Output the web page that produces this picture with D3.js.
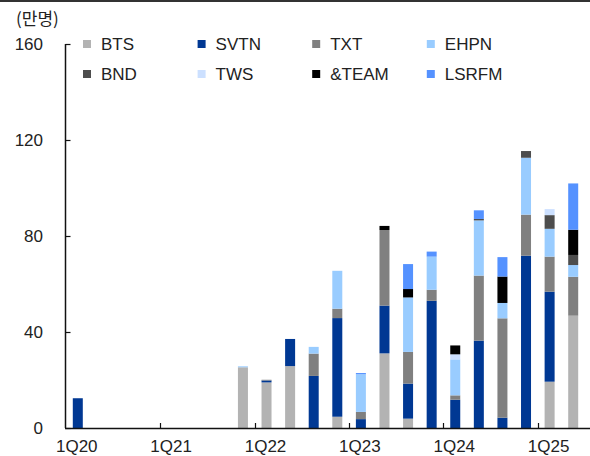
<!DOCTYPE html>
<html><head><meta charset="utf-8">
<script src="https://cdn.jsdelivr.net/npm/d3@7"></script>
<style>body{margin:0;background:#fff;} svg{display:block;} text{font-family:"Liberation Sans",Arial,"Noto Sans CJK KR",sans-serif;}</style>
</head><body><svg id="c" width="590" height="456"></svg>
<script>
const quarters = ["1Q20","2Q20","3Q20","4Q20","1Q21","2Q21","3Q21","4Q21","1Q22","2Q22","3Q22","4Q22","1Q23","2Q23","3Q23","4Q23","1Q24","2Q24","3Q24","4Q24","1Q25","2Q25"];
const tickLabels = ["1Q20","1Q21","1Q22","1Q23","1Q24","1Q25"];
const seriesNames = ["BTS","SVTN","TXT","EHPN","BND","TWS","&TEAM","LSRFM"];
const BTS   = [0,0,0,0,0,0,0,25.3,19.0,25.8,0,4.7,0,31.1,3.9,0,0,0,0,0,19.3,46.8];
const SVTN  = [12.4,0,0,0,0,0,0,0,0.8,11.3,21.7,41.1,3.7,19.9,14.6,53.0,11.8,36.4,4.3,71.8,37.5,0];
const TXT   = [0,0,0,0,0,0,0,0,0.3,0,9.3,3.9,3.0,31.5,13.2,4.6,1.8,27.1,41.4,17.1,14.6,16.2];
const EHPN  = [0,0,0,0,0,0,0,0.4,0,0,2.8,15.8,15.7,0,22.7,13.8,15.0,23.0,6.4,23.7,11.6,4.9];
const BND   = [0,0,0,0,0,0,0,0,0,0,0,0,0,0,0,0,0,0.6,0,2.8,5.7,4.2];
const TWS   = [0,0,0,0,0,0,0,0,0,0,0,0,0,0,0,0,2.1,0,0,0,2.5,0];
const TEAM  = [0,0,0,0,0,0,0,0,0,0,0,0,0,1.7,3.5,0,3.7,0,11.0,0,0,10.5];
const LSRFM = [0,0,0,0,0,0,0,0,0,0,0,0,0.5,0,10.4,2.1,0,3.6,8.1,0,0,19.3];
const yTicks = [0,40,80,120,160];

const seriesValues = [BTS,SVTN,TXT,EHPN,BND,TWS,TEAM,LSRFM];
const colors = ["#b3b3b3","#003893","#808080","#99ccff","#4d4d4d","#cce0ff","#000000","#5592ff"];

const svg = d3.select("#c");
svg.append("rect").attr("x",0).attr("y",0).attr("width",590).attr("height",2).attr("fill","#333");

const xb = d3.scaleBand().domain(quarters).range([66,585]);
const y = d3.scaleLinear().domain([0,160]).range([428,44]);

const table = quarters.map((q,i)=>{const o={q}; seriesNames.forEach((s,k)=>o[s]=seriesValues[k][i]); return o;});
const stacked = d3.stack().keys(seriesNames)(table);

svg.append("g").selectAll("g").data(stacked).join("g")
  .attr("fill",(d,i)=>colors[i])
  .selectAll("rect").data(d=>d.filter(p=>p[1]-p[0]>0)).join("rect")
  .attr("x",d=>xb(d.data.q)+xb.bandwidth()/2-5)
  .attr("width",10)
  .attr("y",d=>y(d[1]))
  .attr("height",d=>y(d[0])-y(d[1]));

// y axis
const ya = svg.append("g").attr("transform","translate(65.5,0)")
  .call(d3.axisRight(y).tickValues(yTicks).tickSize(5).tickFormat(""));
ya.select(".domain").attr("stroke","#111").attr("stroke-width",1.5).attr("d","M0,44V428");
ya.selectAll(".tick line").attr("stroke","#111").attr("stroke-width",1.2);
svg.append("g").selectAll("text").data(yTicks).join("text")
  .attr("x",43).attr("y",d=>y(d)).attr("dy","0.36em").attr("text-anchor","end")
  .attr("font-size",17).attr("fill","#222").text(d=>d);

// x axis
svg.append("line").attr("x1",65).attr("x2",590).attr("y1",428.5).attr("y2",428.5).attr("stroke","#111").attr("stroke-width",1.5);
svg.append("g").selectAll("line").data(tickLabels.slice(1)).join("line")
  .attr("x1",d=>Math.round(xb(d))+0.5).attr("x2",d=>Math.round(xb(d))+0.5)
  .attr("y1",423).attr("y2",428).attr("stroke","#111").attr("stroke-width",1.2);
svg.append("g").selectAll("text").data(tickLabels).join("text")
  .attr("x",d=>xb(d)+xb.bandwidth()/2-1).attr("y",452).attr("text-anchor","middle")
  .attr("font-size",17).attr("fill","#222").text(d=>d);

// unit label
svg.append("text").attr("x",16).attr("y",25).attr("font-size",17).attr("fill","#222")
  .style("font-family","'Noto Sans CJK KR',sans-serif").text("(만명)");

// legend
const lg = svg.append("g").selectAll("g").data(seriesNames).join("g")
  .attr("transform",(d,i)=>`translate(${83+ (i%4)*114.6},${44+Math.floor(i/4)*30})`);
lg.append("rect").attr("x",0).attr("y",-4).attr("width",8).attr("height",8).attr("fill",(d,i)=>colors[i]);
lg.append("text").attr("x",18).attr("y",0).attr("dy","0.36em").attr("font-size",17).attr("fill","#222").text(d=>d);
</script></body></html>
